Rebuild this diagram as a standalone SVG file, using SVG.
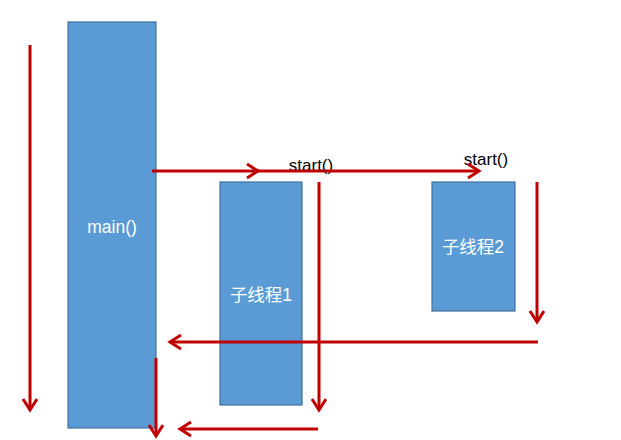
<svg xmlns="http://www.w3.org/2000/svg" width="621" height="440" viewBox="0 0 621 440">
<style>
.box{fill:#5B9BD5;stroke:#41719C;stroke-width:1.2}
.lbl{font-family:"Liberation Sans","Noto Sans CJK SC",sans-serif;font-size:17.5px;fill:#fff;text-anchor:middle}
.t{font-family:"Liberation Sans",sans-serif;font-size:17px;fill:#000;text-anchor:middle}
.ar{stroke:#C00000;stroke-width:3;fill:none;marker-end:url(#ah)}
</style>
<defs>
<marker id="ah" markerUnits="userSpaceOnUse" markerWidth="20" markerHeight="20" refX="12" refY="8" orient="auto">
<path d="M1,1 L12,8 L1,15" fill="none" stroke="#C00000" stroke-width="3"/>
</marker>
</defs>
<rect width="621" height="440" fill="#fff"/>
<g id="main"><rect class="box" x="68" y="22" width="88" height="406"/><text class="lbl" x="112" y="233">main()</text></g>
<g id="thread1"><rect class="box" x="220" y="182" width="82" height="223"/><text class="lbl" x="261" y="301">子线程1</text></g>
<g id="thread2"><rect class="box" x="432" y="182" width="83" height="129"/><text class="lbl" x="473" y="253">子线程2</text></g>
<g id="labels"><text class="t" x="311" y="171">start()</text><text class="t" x="486" y="165">start()</text></g>
<g id="connectors">
<path class="ar" d="M30,45 V410"/>
<path class="ar" d="M152,171 H258"/>
<path class="ar" d="M258,171 H479"/>
<path class="ar" d="M319,182 V410"/>
<path class="ar" d="M537,182 V322"/>
<path class="ar" d="M538,342 H170"/>
<path class="ar" d="M156,358 V436"/>
<path class="ar" d="M318,429 H180"/>
</g>
</svg>
